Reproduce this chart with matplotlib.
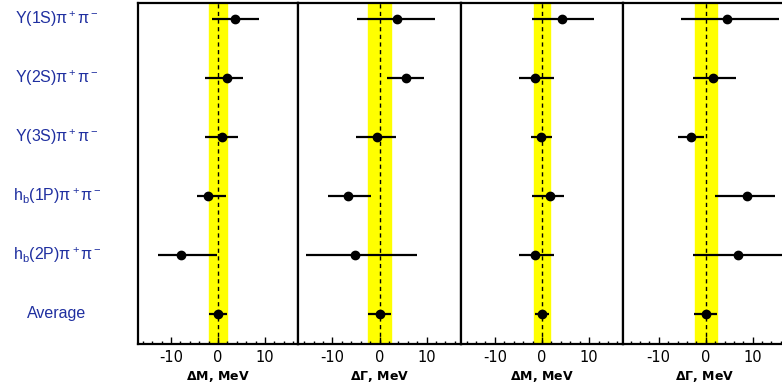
import numpy as np
import matplotlib
matplotlib.use("Agg")
import matplotlib.pyplot as plt
from matplotlib.ticker import MultipleLocator
from matplotlib.transforms import blended_transform_factory

plt.rcParams['font.family'] = ['Liberation Sans', 'DejaVu Sans']
plt.rcParams['mathtext.fontset'] = 'custom'
plt.rcParams['mathtext.rm'] = 'Liberation Sans'
plt.rcParams['mathtext.it'] = 'Liberation Sans:italic'
plt.rcParams['mathtext.bf'] = 'DejaVu Sans:bold'

channels = [r"$\mathregular{\Upsilon(1S)\pi^+\pi^-}$",
            r"$\mathregular{\Upsilon(2S)\pi^+\pi^-}$",
            r"$\mathregular{\Upsilon(3S)\pi^+\pi^-}$",
            r"$\mathregular{h_b(1P)\pi^+\pi^-}$",
            r"$\mathregular{h_b(2P)\pi^+\pi^-}$",
            "Average"]

# Zb(10610) delta M / delta Gamma, Zb(10650) delta M / delta Gamma  (MeV)
dm1 = [3.7, 1.9, 0.9, -2.1, -7.9, 0.0]
dm1_lo = [5.0, 4.7, 3.7, 2.4, 4.9, 1.9]
dm1_hi = [5.0, 3.4, 3.4, 3.8, 7.7, 1.9]

dg1 = [3.8, 5.7, -0.6, -6.6, -5.1, 0.0]
dg1_lo = [8.5, 4.2, 4.3, 4.3, 10.4, 2.5]
dg1_hi = [7.9, 3.7, 4.2, 4.9, 13.0, 2.5]

dm2 = [4.3, -1.5, -0.2, 1.7, -1.5, 0.0]
dm2_lo = [6.4, 3.4, 2.1, 3.8, 3.4, 1.5]
dm2_hi = [6.8, 4.1, 2.3, 3.0, 4.1, 1.5]

dg2 = [4.5, 1.5, -3.2, 8.7, 6.8, 0.0]
dg2_lo = [9.8, 4.3, 2.8, 6.8, 9.6, 2.4]
dg2_hi = [11.0, 4.9, 2.8, 6.0, 11.0, 2.4]

bands = [1.9, 2.4, 1.6, 2.3]
xlabels = [r"$\mathbf{\Delta M}$, MeV", r"$\mathbf{\Delta \Gamma}$, MeV",
           r"$\mathbf{\Delta M}$, MeV", r"$\mathbf{\Delta \Gamma}$, MeV"]

panels = [(dm1, dm1_lo, dm1_hi), (dg1, dg1_lo, dg1_hi),
          (dm2, dm2_lo, dm2_hi), (dg2, dg2_lo, dg2_hi)]

W, H = 782, 389
fig = plt.figure(figsize=(W / 100, H / 100), dpi=100)

lefts = [138, 298, 461, 623]
widths = [160, 163, 162, 164]
xlims = [(-17, 17), (-17.3, 17.3), (-17.2, 17.2), (-17.6, 17.3)]
top, bottom = 3, 344

y = np.arange(len(channels))
label_color = '#1f2fa0'

axes = []
for i, (vals, lo, hi) in enumerate(panels):
    ax = fig.add_axes([lefts[i] / W, 1 - bottom / H, widths[i] / W, (bottom - top) / H])
    ax.axvspan(-bands[i], bands[i], color='#ffff00', zorder=0)
    ax.axvline(0, color='black', ls=(0, (3, 2.5)), lw=1.0, zorder=1)
    ax.errorbar(vals, y, xerr=[lo, hi], fmt='o', color='black', ms=6,
                elinewidth=1.6, capsize=0, zorder=3)
    ax.set_xlim(*xlims[i])
    ax.set_ylim(5.51, -0.27)
    ax.set_yticks([])
    ax.xaxis.set_major_locator(MultipleLocator(10))
    ax.xaxis.set_minor_locator(MultipleLocator(2))
    ax.tick_params(axis='x', which='major', direction='in', length=5, width=1.0,
                   pad=4, top=False)
    ax.tick_params(axis='x', which='minor', direction='in', length=2.5, width=1.0, top=False)
    ax.set_xticks([-10, 0, 10])
    ax.set_xticklabels(['-10', '0', '10'], family='DejaVu Sans', fontsize=10.5)
    ax.set_xlabel(xlabels[i], fontsize=9, fontweight='bold', family='DejaVu Sans',
                  labelpad=3)
    for s in ax.spines.values():
        s.set_linewidth(1.6)
    axes.append(ax)

ax1 = axes[0]
trans = blended_transform_factory(fig.transFigure, ax1.transData)
for yi, name in zip(y, channels):
    ax1.text(57 / W, yi, name, transform=trans, ha='center', va='center',
             color=label_color, fontsize=11.5)

fig.savefig('out.png', dpi=100)
